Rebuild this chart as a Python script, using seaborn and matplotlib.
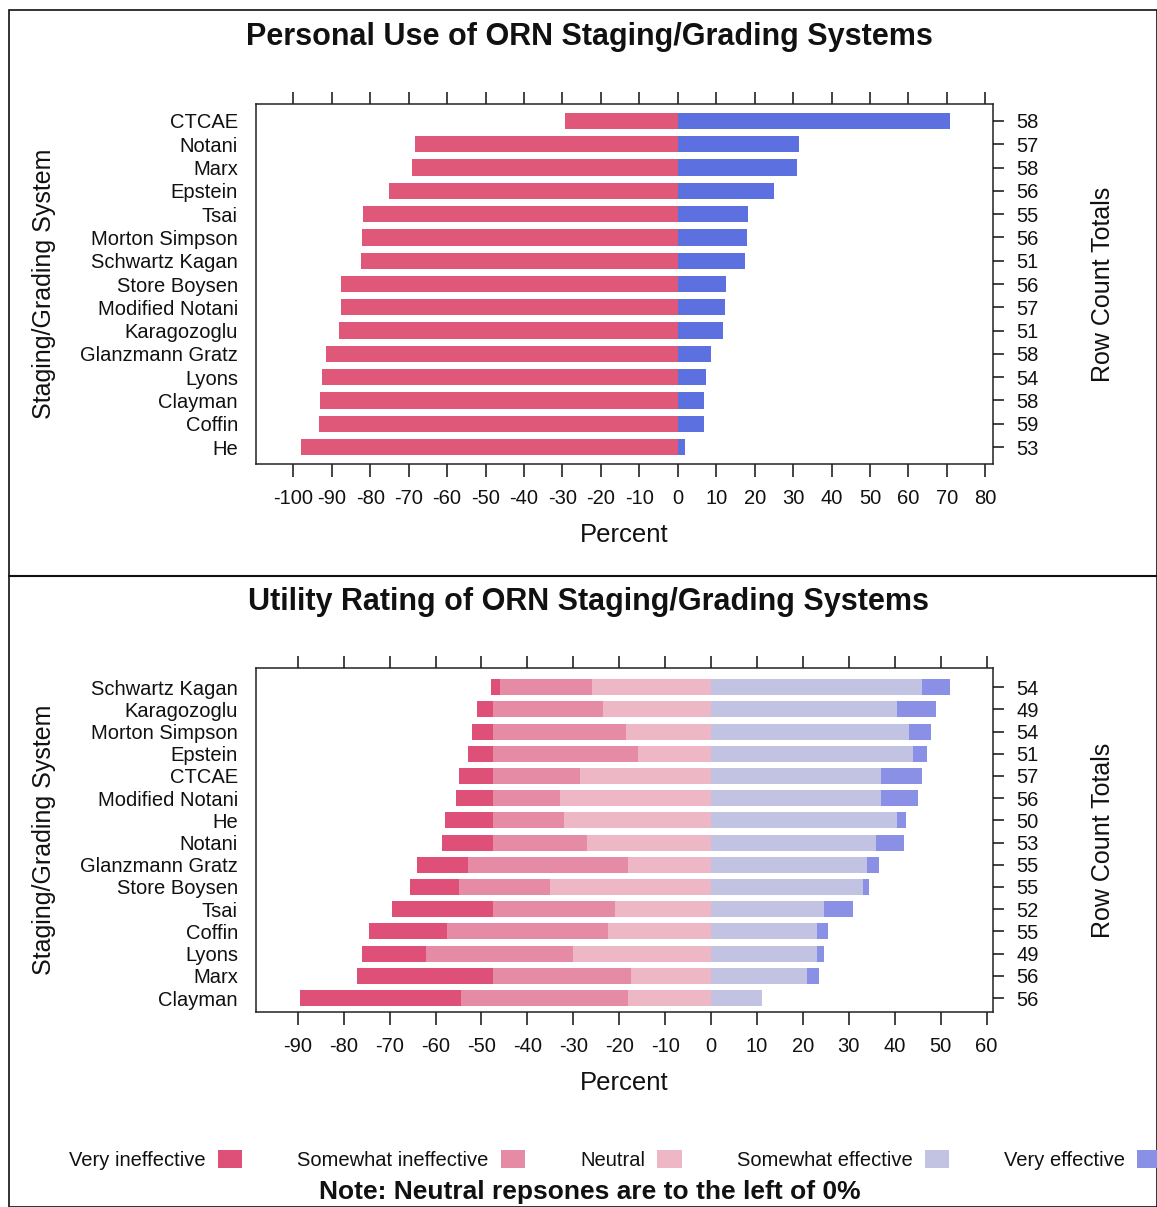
import numpy as np
import pandas as pd
import matplotlib
matplotlib.use("Agg")
import matplotlib.pyplot as plt
import seaborn as sns
from matplotlib.patches import Patch, Rectangle
from matplotlib.lines import Line2D

# ---- data: personal use (percent of respondents) ----
use_systems = ["CTCAE", "Notani", "Marx", "Epstein", "Tsai", "Morton Simpson",
               "Schwartz Kagan", "Store Boysen", "Modified Notani", "Karagozoglu",
               "Glanzmann Gratz", "Lyons", "Clayman", "Coffin", "He"]
use_no = [29.3, 68.4, 69.0, 75.0, 81.8, 82.1, 82.4, 87.5, 87.7, 88.2, 91.4, 92.6, 93.1, 93.2, 98.1]
use_yes = [70.7, 31.6, 31.0, 25.0, 18.2, 17.9, 17.6, 12.5, 12.3, 11.8, 8.6, 7.4, 6.9, 6.8, 1.9]
use_totals = [58, 57, 58, 56, 55, 56, 51, 56, 57, 51, 58, 54, 58, 59, 53]

# ---- data: utility rating (percent of respondents) ----
rate_systems = ["Schwartz Kagan", "Karagozoglu", "Morton Simpson", "Epstein", "CTCAE",
                "Modified Notani", "He", "Notani", "Glanzmann Gratz", "Store Boysen",
                "Tsai", "Coffin", "Lyons", "Marx", "Clayman"]
very_ineff = [2.0, 3.5, 4.5, 5.5, 7.5, 8.0, 10.5, 11.0, 11.0, 10.5, 22.0, 17.0, 14.0, 29.5, 35.0]
some_ineff = [20.0, 24.0, 29.0, 31.5, 19.0, 14.5, 15.5, 20.5, 35.0, 20.0, 26.5, 35.0, 32.0, 30.0, 36.5]
neutral = [26.0, 23.5, 18.5, 16.0, 28.5, 33.0, 32.0, 27.0, 18.0, 35.0, 21.0, 22.5, 30.0, 17.5, 18.0]
some_eff = [46.0, 40.5, 43.0, 44.0, 37.0, 37.0, 40.5, 36.0, 34.0, 33.0, 24.5, 23.0, 23.0, 21.0, 11.0]
very_eff = [6.0, 8.5, 5.0, 3.0, 9.0, 8.0, 2.0, 6.0, 2.5, 1.5, 6.5, 2.5, 1.5, 2.5, 0.0]
rate_totals = [54, 49, 54, 51, 57, 56, 50, 53, 55, 55, 52, 55, 49, 56, 56]

rate_levels = ["Very ineffective", "Somewhat ineffective", "Neutral",
               "Somewhat effective", "Very effective"]

c_no, c_yes = "#DF5779", "#5C70E0"
rate_colors = ["#DF5078", "#E58BA5", "#EDB7C5", "#C2C3E2", "#8A90E6"]

sns.set_style("white")
plt.rcParams["font.family"] = ["Liberation Sans", "DejaVu Sans"]
plt.rcParams["text.color"] = "#111111"
plt.rcParams["axes.labelcolor"] = "#111111"
plt.rcParams["xtick.color"] = "#111111"
plt.rcParams["ytick.color"] = "#111111"

fig = plt.figure(figsize=(11.57, 12.07), dpi=100)
W, H = 1157, 1207


def px_axes(l, t, r, b):
    return fig.add_axes([l / W, 1 - b / H, (r - l) / W, (b - t) / H])


def style_axes(ax, names, totals, xticks, xlim, ylim):
    ax.set_xlim(*xlim)
    ax.set_ylim(*ylim)
    ax.set_xticks(xticks)
    ax.set_xticklabels([str(t) for t in xticks], fontsize=14.5)
    ax.set_yticks(range(len(names)))
    ax.set_yticklabels(names, fontsize=14.5)
    ax.tick_params(axis="x", which="both", direction="out", length=9, width=1.1,
                   top=True, labeltop=False, bottom=True, pad=9)
    ax.tick_params(axis="y", length=0, pad=13)
    ax.set_ylabel("Staging/Grading System", fontsize=18)
    ax.set_xlabel("Percent", fontsize=18.5, labelpad=11)
    ax.yaxis.set_label_coords(-0.271, 0.5)
    for s in ax.spines.values():
        s.set_visible(True)
        s.set_color("#222222")
        s.set_linewidth(1.1)
    ax2 = ax.twinx()
    ax2.set_ylim(*ylim)
    ax2.set_yticks(range(len(totals)))
    ax2.set_yticklabels([str(t) for t in totals], fontsize=14.5)
    ax2.tick_params(axis="y", direction="out", length=8, width=1.1, pad=9)
    ax2.set_ylabel("Row Count Totals", fontsize=18)
    ax2.yaxis.set_label_coords(1.133, 0.5)
    for s in ax2.spines.values():
        s.set_visible(False)
    return ax2


# ---- top panel ----
ax1 = px_axes(256, 104, 993, 464)
df_use = pd.DataFrame({"system": use_systems, "no": use_no, "yes": use_yes})
df_use["neg"] = -df_use["no"]
sns.barplot(data=df_use, x="neg", y="system", order=use_systems, orient="h",
            color=c_no, width=0.7, errorbar=None, saturation=1, linewidth=0, ax=ax1)
sns.barplot(data=df_use, x="yes", y="system", order=use_systems, orient="h",
            color=c_yes, width=0.7, errorbar=None, saturation=1, linewidth=0, ax=ax1)
style_axes(ax1, use_systems, use_totals, list(range(-100, 81, 10)),
           (-109.7, 82.0), (14.73, -0.73))

# ---- bottom panel ----
ax3 = px_axes(256, 668, 993, 1012)
df_rate = pd.DataFrame({"system": rate_systems, "vi": very_ineff, "si": some_ineff,
                        "n": neutral, "se": some_eff, "ve": very_eff})
# overlapping cumulative bars make the stacked look
layers = [
    (-(df_rate["vi"] + df_rate["si"] + df_rate["n"]), rate_colors[0]),
    (-(df_rate["si"] + df_rate["n"]), rate_colors[1]),
    (-df_rate["n"], rate_colors[2]),
    (df_rate["se"] + df_rate["ve"], rate_colors[4]),
    (df_rate["se"], rate_colors[3]),
]
for vals, col in layers:
    sns.barplot(x=vals.values, y=df_rate["system"], order=rate_systems, orient="h",
                color=col, width=0.72, errorbar=None, saturation=1, linewidth=0, ax=ax3)
style_axes(ax3, rate_systems, rate_totals, list(range(-90, 61, 10)),
           (-99.1, 61.4), (14.63, -0.86))

# titles
fig.text(589 / W, 1 - 37 / H, "Personal Use of ORN Staging/Grading Systems",
         ha="center", va="center", fontsize=22, fontweight="bold")
fig.text(589 / W, 1 - 602 / H, "Utility Rating of ORN Staging/Grading Systems",
         ha="center", va="center", fontsize=22, fontweight="bold")

# legend
handles = [Patch(facecolor=c, edgecolor="none", label=l) for c, l in zip(rate_colors, rate_levels)]
fig.legend(handles=handles, loc="center left", bbox_to_anchor=(51 / W, 1 - 1160 / H),
           ncol=5, frameon=False, markerfirst=False, fontsize=14.5,
           handlelength=1.2, handleheight=1.0, handletextpad=0.6, columnspacing=2.75)
fig.text(590 / W, 1 - 1192 / H, "Note: Neutral repsones are to the left of 0%",
         ha="center", va="center", fontsize=19, fontweight="bold")

# outer frame and divider
fig.add_artist(Rectangle((9 / W, 0.0), 1 - 9 / W, 1 - 10 / H, transform=fig.transFigure,
                         fill=False, edgecolor="#111111", linewidth=1.2))
fig.add_artist(Line2D([9 / W, 1.0], [1 - 576 / H, 1 - 576 / H], transform=fig.transFigure,
                      color="#111111", linewidth=1.5))

fig.savefig("out.png", dpi=100)
